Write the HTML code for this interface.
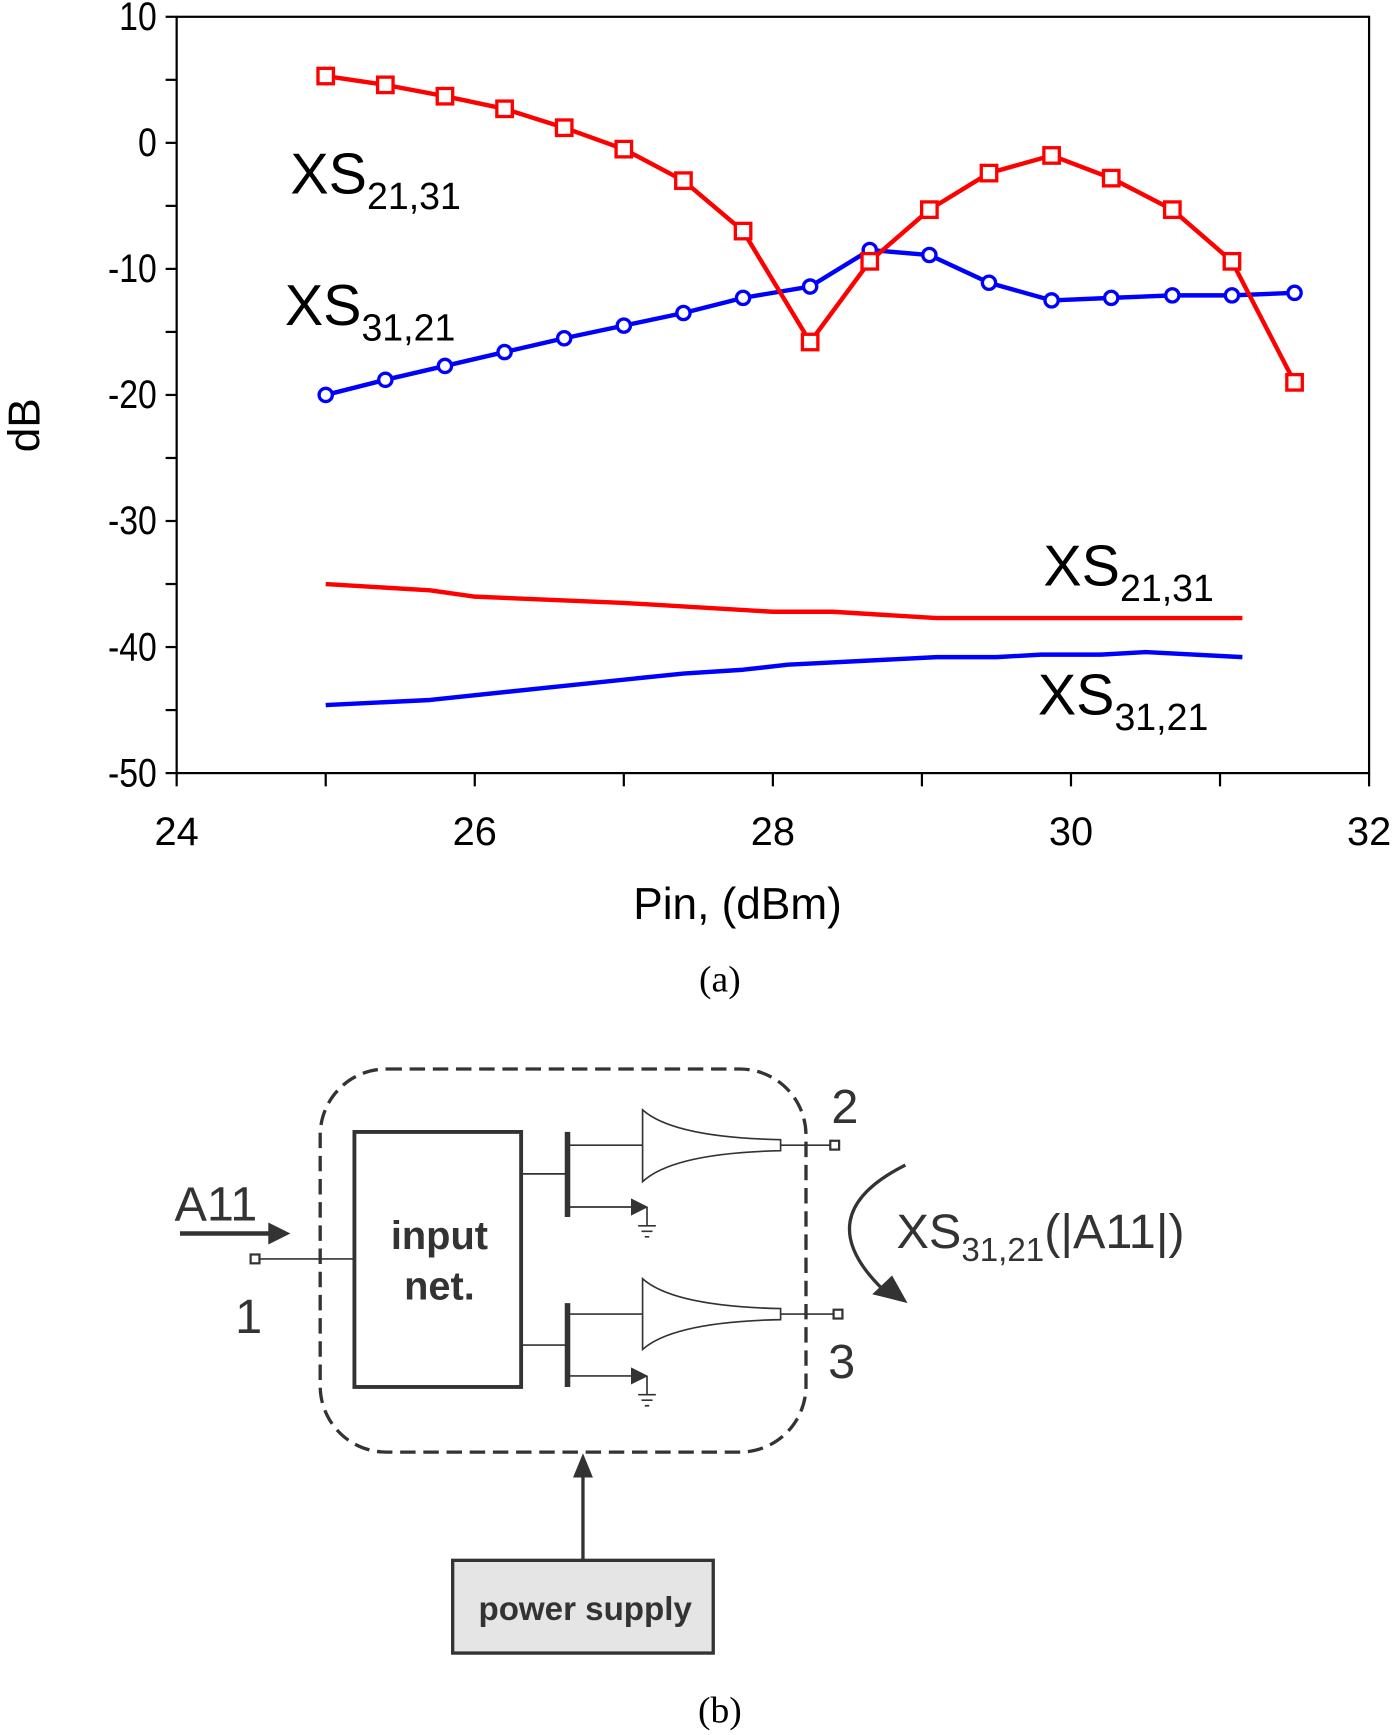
<!DOCTYPE html>
<html><head><meta charset="utf-8"><style>
html,body{margin:0;padding:0;background:#fff}
svg{display:block}
.t{font-family:"Liberation Sans",sans-serif}
</style></head><body>
<svg id="s" width="1400" height="1735" viewBox="0 0 1268 1571" xmlns="http://www.w3.org/2000/svg">
<g id="chart"></g>
<text x="652" y="898" font-family="Liberation Serif,serif" font-size="34" text-anchor="middle">(a)</text>
<g id="diagram" fill="none" stroke="#333">
<rect x="290" y="968" width="440" height="347" rx="60" stroke-width="3" stroke-dasharray="14,7"/>
<rect x="321" y="1025" width="151" height="231" stroke-width="3.5"/>
<text x="398" y="1131" class="t" font-size="36" font-weight="bold" fill="#333" stroke="none" text-anchor="middle">input</text>
<text x="398" y="1177" class="t" font-size="36" font-weight="bold" fill="#333" stroke="none" text-anchor="middle">net.</text>
<g>
<line x1="514" y1="1025" x2="514" y2="1102" stroke-width="5"/>
<line x1="472" y1="1063" x2="514" y2="1063" stroke-width="1.5"/>
<line x1="514" y1="1037" x2="582" y2="1037" stroke-width="1.5"/>
<path d="M582 1005 Q610 1030 707 1032 L707 1042 Q610 1044 582 1070 Z" stroke-width="1.5"/>
<line x1="707" y1="1037" x2="752" y2="1037" stroke-width="1.5"/>
<rect x="752" y="1033" width="8" height="8" stroke-width="2"/>
<line x1="514" y1="1093" x2="575" y2="1093" stroke-width="1.5"/>
<path d="M572 1086 L586 1093 L572 1100 Z" fill="#333"/>
<path d="M586 1093 V1110 M578 1110 H594 M581 1115 H591 M584 1120 H588" stroke-width="1.5"/>
</g>
<g>
<line x1="514" y1="1180" x2="514" y2="1256" stroke-width="5"/>
<line x1="472" y1="1218" x2="514" y2="1218" stroke-width="1.5"/>
<line x1="514" y1="1190" x2="582" y2="1190" stroke-width="1.5"/>
<path d="M582 1158 Q610 1183 707 1185 L707 1195 Q610 1197 582 1222 Z" stroke-width="1.5"/>
<line x1="707" y1="1190" x2="755" y2="1190" stroke-width="1.5"/>
<rect x="755" y="1186" width="8" height="8" stroke-width="2"/>
<line x1="514" y1="1246" x2="575" y2="1246" stroke-width="1.5"/>
<path d="M572 1239 L586 1246 L572 1253 Z" fill="#333"/>
<path d="M586 1246 V1263 M578 1263 H594 M581 1268 H591 M584 1273 H588" stroke-width="1.5"/>
</g>
<rect x="227" y="1136" width="8" height="8" stroke-width="2"/>
<line x1="235" y1="1140" x2="321" y2="1140" stroke-width="1.5"/>
<text x="158" y="1105" class="t" font-size="44" fill="#333" stroke="none">A11</text>
<line x1="163" y1="1117" x2="245" y2="1117" stroke-width="4"/>
<path d="M243 1107 L263 1117 L243 1127 Z" fill="#333" stroke="none"/>
<text x="213" y="1207" class="t" font-size="44" fill="#333" stroke="none">1</text>
<text x="753" y="1017" class="t" font-size="44" fill="#333" stroke="none">2</text>
<text x="750" y="1248" class="t" font-size="44" fill="#333" stroke="none">3</text>
<path d="M820 1055 Q730 1100 800 1168" stroke-width="3"/>
<path d="M790 1172 L822 1180 L808 1155 Z" fill="#333" stroke="none"/>
<text x="812" y="1130" class="t" font-size="44" fill="#333" stroke="none">XS<tspan font-size="30" dy="12">31,21</tspan><tspan dy="-12">(|A11|)</tspan></text>
<line x1="528" y1="1413" x2="528" y2="1335" stroke-width="3"/>
<path d="M519 1338 L528 1316 L537 1338 Z" fill="#333" stroke="none"/>
<rect x="410" y="1413" width="236" height="84" fill="#e5e5e5" stroke-width="3"/>
<text x="530" y="1467" class="t" font-size="30" font-weight="bold" fill="#333" stroke="none" text-anchor="middle">power supply</text>
</g>
<text x="652" y="1560" font-family="Liberation Serif,serif" font-size="34" text-anchor="middle">(b)</text>
</svg>
<script>
const xMarkers=[25.0,25.4,25.8,26.2,26.6,27.0,27.4,27.8,28.25,28.65,29.05,29.45,29.87,30.27,30.68,31.08,31.5];
const redMarkerY=[5.3,4.6,3.7,2.7,1.2,-0.5,-3,-7,-15.8,-9.4,-5.3,-2.4,-1,-2.8,-5.3,-9.4,-19];
const blueMarkerY=[-20,-18.8,-17.7,-16.6,-15.5,-14.5,-13.5,-12.3,-11.4,-8.5,-8.9,-11.1,-12.5,-12.3,-12.1,-12.1,-11.9];
const redLineX=[25,25.7,26,27,28,28.4,29.1,31.15];
const redLineY=[-35,-35.5,-36,-36.5,-37.2,-37.2,-37.7,-37.7];
const blueLineX=[25,25.7,26.5,27.4,27.8,28.1,29.1,29.5,29.8,30.2,30.5,31.15];
const blueLineY=[-44.6,-44.2,-43.2,-42.1,-41.8,-41.4,-40.8,-40.8,-40.6,-40.6,-40.4,-40.8];
const xTicks=[24,26,28,30,32];
const yTicks=[10,0,-10,-20,-30,-40,-50];
const L=160,R=1240,T=15,B=700;
const sx=v=>L+(v-24)/8*(R-L), sy=v=>T+(10-v)/60*(B-T);
const NS="http://www.w3.org/2000/svg", g=document.getElementById('chart');
function mk(tag,a,parent){const e=document.createElementNS(NS,tag);for(const k in a)e.setAttribute(k,a[k]);(parent||g).appendChild(e);return e;}
let e=mk('rect',{x:L,y:T,width:R-L,height:B-T,fill:'none',stroke:'#000','stroke-width':2});


for(let v=-50;v<=10;v+=5){e=mk('line',{x1:L-10,x2:L,y1:sy(v),y2:sy(v),stroke:'#000','stroke-width':2});

}
for(let v=24;v<=32;v+=1){e=mk('line',{x1:sx(v),x2:sx(v),y1:B,y2:B+12,stroke:'#000','stroke-width':2});

}
const YL=142;
yTicks.forEach(v=>{e=mk('text',{x:YL,y:sy(v)+12,'text-anchor':'end','font-size':36,'font-family':'Liberation Sans,sans-serif',transform:`translate(${YL},0) scale(0.85,1) translate(${-YL},0)`});e.textContent=v;

});
xTicks.forEach(v=>{e=mk('text',{x:sx(v),y:B+65,'text-anchor':'middle','font-size':36,'font-family':'Liberation Sans,sans-serif'});e.textContent=v;

});
e=mk('text',{x:668,y:832,'text-anchor':'middle','font-size':40,'font-family':'Liberation Sans,sans-serif'});e.textContent='Pin, (dBm)';


e=mk('text',{x:0,y:0,'text-anchor':'middle','font-size':40,'font-family':'Liberation Sans,sans-serif',transform:'translate(36,385) rotate(-90)'});e.textContent='dB';


function line(xs,ys,col,name){e=mk('polyline',{points:xs.map((x,i)=>sx(x)+','+sy(ys[i])).join(' '),fill:'none',stroke:col,'stroke-width':4,'stroke-linejoin':'round'});

}
line(redLineX,redLineY,'#f00','red-line-lower');
line(blueLineX,blueLineY,'#00f','blue-line-lower');
line(xMarkers,blueMarkerY,'#00f','blue-series');
xMarkers.forEach((x,i)=>{e=mk('circle',{cx:sx(x),cy:sy(blueMarkerY[i]),r:6,fill:'#fff',stroke:'#00f','stroke-width':3});

});
line(xMarkers,redMarkerY,'#f00','red-series');
xMarkers.forEach((x,i)=>{e=mk('rect',{x:sx(x)-7,y:sy(redMarkerY[i])-7,width:14,height:14,fill:'#fff',stroke:'#f00','stroke-width':3});

});
function lab(x,y,sub,name){e=mk('text',{x:x,y:y,'font-size':52,'font-family':'Liberation Sans,sans-serif'});e.innerHTML='XS<tspan font-size="34" dy="14">'+sub+'</tspan>';

}
lab(263,175,'21,31','label-xs2131-upper');
lab(258,294,'31,21','label-xs3121-upper');
lab(945,530,'21,31','label-xs2131-lower');
lab(940,647,'31,21','label-xs3121-lower');
</script>
</body></html>
